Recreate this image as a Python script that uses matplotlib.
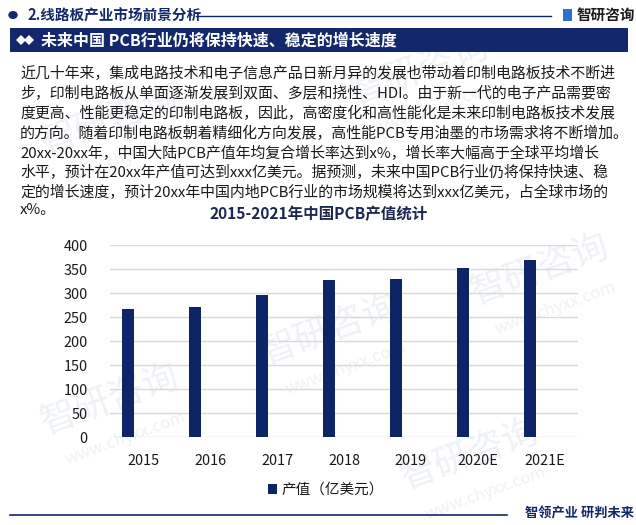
import matplotlib
matplotlib.use("Agg")
import matplotlib.pyplot as plt
from matplotlib.patches import Rectangle, Polygon, Circle
from matplotlib.lines import Line2D

plt.rcParams['font.family'] = ['Noto Sans CJK SC', 'DejaVu Sans']

# ---- data ----
categories = ["2015", "2016", "2017", "2018", "2019", "2020E", "2021E"]
values = [267, 271, 296, 328, 330, 353, 369]
series_name = "产值（亿美元）"
y_ticks = [0, 50, 100, 150, 200, 250, 300, 350, 400]

section_title = "2.线路板产业市场前景分析"
brand = "智研咨询"
banner_title = "未来中国 PCB行业仍将保持快速、稳定的增长速度"
chart_title = "2015-2021年中国PCB产值统计"
slogan = "智领产业 研判未来"
body_lines = [
    "近几十年来，集成电路技术和电子信息产品日新月异的发展也带动着印制电路板技术不断进",
    "步，印制电路板从单面逐渐发展到双面、多层和挠性、HDI。由于新一代的电子产品需要密",
    "度更高、性能更稳定的印制电路板，因此，高密度化和高性能化是未来印制电路板技术发展",
    "的方向。随着印制电路板朝着精细化方向发展，高性能PCB专用油墨的市场需求将不断增加。",
    "20xx-20xx年，中国大陆PCB产值年均复合增长率达到x%，增长率大幅高于全球平均增长",
    "水平，预计在20xx年产值可达到xxx亿美元。据预测，未来中国PCB行业仍将保持快速、稳",
    "定的增长速度，预计20xx年中国内地PCB行业的市场规模将达到xxx亿美元，占全球市场的",
    "x%。",
]
body_y = [73, 93, 113, 133, 153, 173, 192, 210]

W, H = 636, 525
NAVY = "#13286b"
BAR = "#0d2567"
TEXT = "#1a1a1a"

fig = plt.figure(figsize=(W / 100, H / 100), dpi=100)
fig.patch.set_facecolor("white")

def fx(x):
    return x / W

def fy(y):
    return 1 - y / H

# ---- watermarks (faint, behind everything) ----
wm_color = "#eef1f6"
for (x, y) in [(110, 120), (420, 70), (330, 330), (110, 400), (540, 270), (470, 455)]:
    fig.text(fx(x), fy(y), brand, fontsize=26, color=wm_color, rotation=20,
             ha="center", va="center", zorder=-5)
    fig.text(fx(x + 15), fy(y + 38), "www.chyxx.com", fontsize=12, color=wm_color,
             rotation=20, ha="center", va="center", zorder=-5)

# ---- header ----
fig.patches.append(Circle((fx(13), fy(15)), 4 / W, transform=fig.transFigure,
                          color=NAVY, zorder=2))
fig.text(fx(27), fy(15), section_title, fontsize=10.5, fontweight="bold",
         color=NAVY, ha="left", va="center")
fig.add_artist(Line2D([fx(196), fx(551)], [fy(15.5), fy(15.5)], color=NAVY, lw=1.0))
fig.patches.append(Rectangle((fx(563), fy(21)), 9 / W, 12 / H, transform=fig.transFigure,
                             facecolor="#2f6fd1", edgecolor="none"))
fig.text(fx(577), fy(15), brand, fontsize=10.5, fontweight="bold", color=TEXT,
         ha="left", va="center")

# ---- banner ----
fig.patches.append(Rectangle((fx(10), fy(52)), (628 - 10) / W, (52 - 28) / H,
                             transform=fig.transFigure, facecolor=NAVY, edgecolor="none"))
for dx in (0, 8):
    cx = 21 + dx
    fig.patches.append(Polygon([(fx(cx - 5), fy(40)), (fx(cx), fy(35)),
                                (fx(cx + 5), fy(40)), (fx(cx), fy(45))],
                               closed=True, transform=fig.transFigure,
                               facecolor="white", edgecolor="none"))
fig.text(fx(41), fy(40.5), banner_title, fontsize=11.5, fontweight="bold",
         color="white", ha="left", va="center")

# ---- body text ----
for line, y in zip(body_lines, body_y):
    fig.text(fx(20), fy(y), line, fontsize=10.75, color=TEXT, ha="left", va="center",
             fontweight="medium")

# ---- chart title ----
fig.text(fx(319), fy(214), chart_title, fontsize=11.2, fontweight="bold",
         color="#1c2752", ha="center", va="center")

# ---- chart ----
ax = fig.add_axes([fx(110), fy(437.3), (578 - 110) / W, (437.3 - 245.3) / H])
ax.set_facecolor("none")
xpos = list(range(len(categories)))
bar_x = [i - 0.225 for i in xpos]
ax.bar(bar_x, values, width=0.18, color=BAR, label=series_name, zorder=3)
ax.set_xlim(-0.5, len(categories) - 0.5)
ax.set_ylim(0, 400)
ax.set_yticks(y_ticks)
ax.set_xticks(xpos)
ax.set_xticklabels(categories)
ax.yaxis.grid(True, color="#d9d9d9", lw=1.0, zorder=0)
ax.set_axisbelow(True)
for s in ax.spines.values():
    s.set_visible(False)
ax.tick_params(axis="both", length=0)
ax.tick_params(axis="y", pad=16, labelsize=10.4, labelcolor=TEXT)
ax.tick_params(axis="x", pad=12, labelsize=10.4, labelcolor=TEXT)
for lab in ax.get_xticklabels():
    lab.set_fontweight("medium")

leg = fig.legend(loc="center", bbox_to_anchor=(fx(326), fy(490)), frameon=False,
                 handlelength=0.65, handleheight=0.65, handletextpad=0.3,
                 prop={"size": 10.5})
for t in leg.get_texts():
    t.set_color(TEXT)

# ---- footer ----
fig.add_artist(Line2D([fx(10), fx(507)], [fy(515), fy(515)], color=NAVY, lw=1.2))
fig.text(fx(525), fy(513), slogan, fontsize=9.5, fontweight="bold", color=NAVY,
         ha="left", va="center")

fig.savefig("out.png", dpi=100, facecolor="white")
